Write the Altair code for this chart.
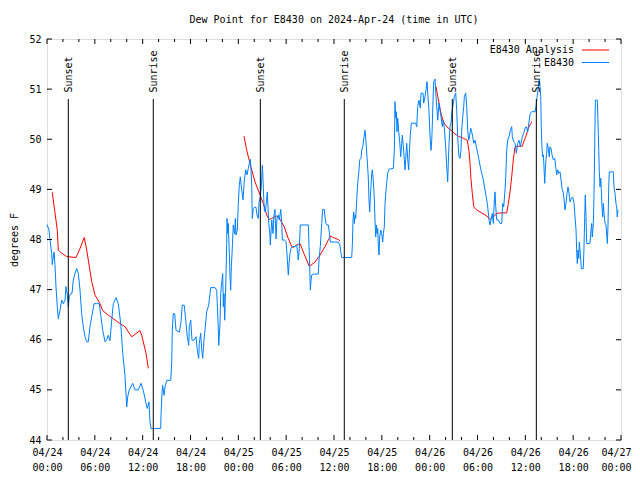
import json
import altair as alt
import pandas as pd

MONO = "DejaVu Sans Mono"

# ---- E8430 observations (hours since 2024-04-24 00:00 UTC, dew point degF)
obs_hours = [
    0.0, 0.25, 0.38, 0.59, 0.66, 0.88, 1.0, 1.13, 1.29, 1.42, 1.63, 1.84, 2.04, 2.26, 2.38, 2.55,
    2.67, 2.80, 2.97, 3.14, 3.30, 3.51, 3.73, 3.93, 4.14, 4.35, 4.55, 4.77, 4.98, 5.18, 5.39, 5.61,
    5.90, 6.23, 6.56, 6.74, 6.99, 7.28, 7.49, 7.69, 7.90, 8.12, 8.32, 8.66, 8.94, 9.25, 9.50, 9.78,
    10.0, 10.12, 10.32, 10.75, 11.04, 11.45, 11.79, 12.08, 12.42, 12.58, 12.79, 12.92, 13.05, 14.26,
    14.30, 14.43, 14.51, 14.68, 14.80, 15.02, 15.52, 15.64, 15.72, 15.84, 16.02, 16.18, 16.60, 16.81,
    16.97, 17.22, 17.40, 17.60, 17.78, 17.85, 18.03, 18.19, 18.44, 18.69, 18.85, 19.03, 19.10, 19.28,
    19.41, 19.53, 19.69, 19.86, 20.03, 20.28, 20.45, 20.53, 21.07, 21.29, 21.36, 21.49, 21.54, 21.70,
    21.79, 21.95, 22.04, 22.12, 22.20, 22.29, 22.45, 22.54, 22.58, 22.67, 22.74, 22.87, 22.96, 23.04,
    23.12, 23.21, 23.37, 23.55, 23.62, 23.71, 23.87, 24.0, 24.12, 24.25, 24.42, 24.59, 24.75, 24.93,
    25.09, 25.25, 25.43, 25.50, 25.59, 25.68, 25.75, 25.88, 26.0, 26.22, 26.34, 26.51, 26.60, 26.76,
    26.88, 27.01, 27.09, 27.18, 27.26, 27.38, 27.51, 27.63, 27.72, 27.81, 27.94, 28.01, 28.19, 28.35,
    28.47, 28.60, 28.73, 28.85, 29.01, 29.14, 29.32, 29.44, 29.52, 29.77, 29.98, 30.11, 30.19, 30.27,
    30.36, 30.48, 30.61, 30.77, 31.11, 31.32, 31.45, 31.52, 31.65, 31.77, 32.78, 32.87, 32.95, 33.03,
    33.12, 33.20, 33.41, 34.03, 34.12, 34.28, 34.46, 34.58, 34.78, 34.87, 35.0, 35.12, 35.29, 35.41,
    35.54, 36.54, 36.72, 36.88, 36.97, 38.22, 38.30, 38.39, 38.47, 38.55, 38.64, 38.72, 38.85, 38.97,
    39.14, 39.23, 39.39, 39.48, 39.64, 39.77, 39.89, 39.98, 40.14, 40.30, 40.39, 40.48, 40.56, 40.64,
    40.73, 40.81, 40.93, 41.06, 41.14, 41.23, 41.31, 41.40, 41.48, 41.56, 41.65, 41.73, 41.86, 41.98,
    42.11, 42.19, 42.31, 42.40, 42.56, 42.74, 42.90, 43.44, 43.57, 43.65, 43.74, 43.82, 43.90, 43.99,
    44.12, 44.24, 44.37, 44.49, 44.57, 44.70, 44.82, 44.91, 45.0, 45.12, 45.25, 45.37, 45.45, 45.57,
    45.70, 46.25, 46.38, 46.50, 46.66, 46.83, 46.92, 47.17, 47.25, 47.42, 47.54, 47.67, 47.76, 47.92,
    48.04, 48.17, 48.26, 48.33, 48.42, 48.51, 48.67, 48.80, 48.92, 49.01, 49.17, 49.30, 49.42, 49.59,
    49.71, 49.84, 50.01, 50.14, 50.26, 50.34, 50.43, 50.55, 50.68, 50.77, 50.97, 51.09, 51.27, 51.39,
    51.52, 51.59, 51.68, 51.81, 51.93, 52.02, 52.15, 52.27, 52.35, 52.52, 52.65, 52.77, 52.90, 53.02,
    53.15, 53.27, 53.40, 53.53, 53.69, 53.85, 54.03, 54.19, 54.35, 54.53, 54.73, 54.94, 55.16, 55.28,
    55.45, 55.57, 55.70, 55.86, 55.99, 56.11, 56.20, 56.29, 56.41, 56.61, 56.82, 57.04, 57.16, 57.29,
    57.45, 57.54, 57.66, 57.79, 57.95, 58.12, 58.29, 58.37, 58.54, 58.71, 58.87, 59.05, 59.21, 59.37,
    59.62, 59.80, 59.96, 60.12, 60.30, 60.46, 60.63, 60.80, 61.22, 61.34, 61.43, 61.59, 61.76, 61.84,
    61.93, 62.0, 62.09, 62.18, 62.26, 62.34, 62.43, 62.51, 62.59, 62.68, 62.75, 62.88, 63.0, 63.09,
    63.22, 63.35, 63.51, 63.69, 63.81, 63.94, 64.06, 64.19, 64.35, 64.48, 64.60, 64.77, 64.89, 64.98,
    65.10, 65.23, 65.35, 65.48, 65.61, 65.77, 65.94, 66.11, 66.23, 66.36, 66.45, 66.52, 66.61, 66.70,
    66.77, 66.90, 67.02, 67.27, 67.36, 67.45, 67.52, 67.61, 67.70, 68.11, 68.24, 68.33, 68.40, 68.53,
    68.62, 68.70, 68.78, 69.03, 69.12, 69.21, 69.28, 69.37, 69.46, 69.53, 69.62, 69.71, 69.78, 69.87,
    70.0, 70.12, 70.21, 70.29, 70.37, 70.46, 70.53, 71.03, 71.12, 71.25, 71.37, 71.46, 71.53, 71.62,
]
obs_dewpt = [
    48.30, 48.19, 47.99, 47.72, 47.50, 47.75, 47.50, 47.05, 46.66, 46.42, 46.59, 46.79, 46.72, 46.79, 47.06, 46.89,
    46.66, 46.86, 46.92, 46.93, 47.19, 47.32, 47.42, 47.32, 46.99, 46.52, 46.26, 46.06, 45.96, 45.96, 46.26, 46.46,
    46.72, 46.72, 46.72, 46.49, 46.19, 45.96, 46.00, 46.09, 45.98, 46.39, 46.72, 46.84, 46.72, 46.32, 45.73, 45.29,
    44.66, 44.86, 45.00, 45.13, 45.00, 45.00, 45.13, 44.99, 44.73, 44.63, 44.76, 44.36, 44.23, 44.23,
    44.49, 44.96, 45.09, 44.89, 45.06, 45.19, 45.19, 45.53, 46.19, 46.52, 46.52, 46.19, 46.15, 46.36,
    46.69, 46.69, 46.39, 46.06, 45.89, 46.26, 46.39, 45.99, 45.99, 46.06, 45.79, 45.63, 45.93, 46.13,
    45.79, 45.63, 45.99, 46.26, 46.56, 46.69, 46.92, 47.04, 47.04, 46.99, 46.72, 46.19, 45.89, 46.32,
    46.92, 47.19, 47.32, 46.66, 46.92, 46.39, 47.26, 47.92, 48.42, 48.12, 48.32, 47.72, 47.26, 46.99,
    47.46, 47.72, 48.29, 48.11, 48.42, 48.09, 48.19, 48.72, 49.08, 49.25, 48.99, 48.79, 49.19, 49.39,
    49.29, 49.42, 49.55, 49.60, 49.39, 49.06, 48.42, 48.62, 48.64, 48.64, 48.49, 48.42, 48.75, 48.85,
    49.05, 49.48, 49.22, 48.85, 48.59, 48.55, 48.72, 48.95, 48.65, 48.32, 48.15, 47.89, 48.39, 48.12,
    48.49, 48.60, 48.01, 48.42, 48.49, 48.39, 48.60, 48.35, 47.99, 47.99, 47.96, 47.69, 47.49, 47.29,
    47.52, 47.72, 47.82, 47.86, 47.86, 47.89, 47.72, 47.59, 47.82, 48.29, 48.29, 47.86, 47.46, 46.99,
    47.19, 47.29, 47.31, 47.31, 47.59, 47.86, 48.32, 48.60, 48.60, 48.45, 48.32, 48.29, 48.29, 48.15,
    47.95, 47.95, 47.90, 47.72, 47.64, 47.64, 47.89, 48.39, 48.55, 48.32, 48.49, 48.42, 48.79, 49.12,
    49.39, 49.59, 49.62, 49.78, 49.88, 50.05, 50.18, 50.02, 49.65, 49.25, 48.79, 48.55, 48.85, 49.05,
    49.32, 49.39, 49.19, 48.79, 48.39, 48.05, 48.29, 48.12, 48.22, 47.89, 47.69, 48.05, 48.19, 48.12,
    47.95, 48.12, 48.25, 48.72, 49.05, 49.32, 49.40, 49.42, 49.78, 50.75, 50.42, 50.55, 50.15, 50.42,
    50.15, 49.95, 49.65, 49.92, 50.08, 49.85, 49.59, 49.39, 49.62, 49.92, 49.59, 49.39, 49.72, 50.08,
    50.32, 50.32, 50.25, 50.65, 50.78, 50.62, 50.92, 50.92, 50.72, 50.85, 50.98, 51.15, 50.92, 50.55,
    50.08, 49.78, 49.98, 50.28, 50.78, 51.15, 51.20, 50.85, 50.58, 50.38, 50.72, 50.58, 50.45, 50.25,
    50.38, 50.22, 49.85, 49.45, 49.15, 49.52, 49.92, 50.25, 50.32, 50.52, 50.72, 50.85, 50.92, 50.58,
    50.05, 49.85, 49.65, 49.62, 49.78, 50.18, 50.45, 50.65, 50.85, 50.92, 50.65, 50.18, 49.98, 50.08,
    50.22, 50.15, 50.05, 49.92, 49.98, 49.85, 49.72, 49.59, 49.45, 49.32, 49.19, 48.99, 48.79, 48.65,
    48.39, 48.29, 48.39, 48.52, 48.32, 48.79, 48.95, 48.65, 48.39, 48.39, 48.32, 48.32, 48.72, 48.65,
    48.99, 49.25, 49.78, 49.98, 50.05, 50.18, 50.25, 50.05, 49.95, 49.92, 49.72, 49.92, 49.98, 49.85,
    50.05, 50.12, 50.22, 50.25, 50.15, 50.35, 50.52, 50.55, 50.55, 50.65, 50.78, 50.98, 51.20, 51.05,
    50.85, 50.25, 49.82, 49.65, 49.69, 49.45, 49.12, 49.39, 49.59, 49.72, 49.92, 49.82, 49.65, 49.85,
    49.82, 49.69, 49.59, 49.62, 49.45, 49.29, 49.39, 49.32, 49.35, 49.19, 49.02, 48.92, 48.75, 48.59,
    48.72, 48.92, 49.05, 48.92, 48.75, 48.82, 48.85, 48.72, 48.45, 48.19, 47.72, 47.52, 47.79, 47.62,
    47.95, 47.72, 47.42, 47.42, 47.85, 48.45, 48.89, 48.45, 47.92, 47.92, 48.19, 48.32, 48.05, 48.32,
    48.92, 49.85, 50.78, 50.78, 50.32, 49.78, 49.35, 49.05, 49.22, 48.99, 48.65, 48.45, 48.72, 48.52,
    48.32, 48.29, 48.09, 47.92, 48.29, 49.05, 49.35, 49.35, 49.05, 48.92, 48.72, 48.65, 48.45, 48.59,
]

# ---- E8430 Analysis (three separate stretches)
ana1_hours = [0.66, 1.29, 1.42, 1.72, 2.47, 3.64, 4.14, 4.68, 4.98, 5.61, 6.02, 6.65, 6.99, 7.69,
              8.74, 9.78, 10.62, 11.67, 11.88, 12.42, 12.71]
ana1_dewpt = [48.94, 48.19, 47.79, 47.74, 47.66, 47.64, 47.82, 48.04, 47.79, 47.16, 46.89, 46.72,
              46.58, 46.49, 46.37, 46.26, 46.06, 46.18, 46.09, 45.73, 45.43]
ana2_hours = [24.71, 25.05, 25.46, 26.09, 26.72, 27.13, 27.56, 27.85, 28.19, 28.81, 29.23, 29.77,
              30.19, 30.70, 30.90, 31.32, 31.74, 32.15, 32.58, 32.87, 33.12, 33.62, 34.25, 34.87,
              35.29, 35.59, 35.91, 36.54, 36.75]
ana2_dewpt = [50.06, 49.78, 49.52, 49.15, 48.89, 48.72, 48.49, 48.40, 48.42, 48.47, 48.40, 48.25,
              48.05, 47.86, 47.84, 47.89, 47.92, 47.75, 47.59, 47.47, 47.49, 47.55, 47.69, 47.86,
              47.99, 48.07, 48.04, 48.00, 47.97]
ana3_hours = [48.80, 49.01, 49.17, 49.42, 49.71, 50.01, 50.34, 50.68, 51.09, 51.59, 52.22, 52.72,
              52.94, 53.06, 53.19, 53.35, 53.53, 53.90, 54.53, 55.16, 55.57, 55.99, 56.41, 56.82,
              57.66, 57.87, 58.08, 58.29, 58.49, 58.71, 59.12, 59.62, 59.80, 60.05, 60.38, 60.71, 60.80]
ana3_dewpt = [51.05, 50.85, 50.72, 50.52, 50.35, 50.28, 50.22, 50.18, 50.12, 50.06, 50.02, 49.98,
              49.75, 49.52, 49.19, 48.92, 48.65, 48.59, 48.53, 48.47, 48.40, 48.45, 48.52, 48.53,
              48.53, 48.72, 48.95, 49.25, 49.59, 49.85, 49.86, 49.86, 49.95, 50.05, 50.22, 50.32, 50.35]

# ---- sunrise / sunset markers
event_hours = [2.67, 13.33, 26.76, 37.29, 50.84, 61.38]
event_names = ["Sunset", "Sunrise", "Sunset", "Sunrise", "Sunset", "Sunrise"]

# ---- axes
y_ticks = [44, 45, 46, 47, 48, 49, 50, 51, 52]
x_major = [0, 6, 12, 18, 24, 30, 36, 42, 48, 54, 60, 66, 72]
x_minor = [2, 4, 8, 10, 14, 16, 20, 22, 26, 28, 32, 34, 38, 40, 44, 46, 50, 52, 56, 58, 62, 64, 68, 70]
x_tick_dates = ["04/24", "04/24", "04/24", "04/24", "04/25", "04/25", "04/25", "04/25",
                "04/26", "04/26", "04/26", "04/26", "04/27"]
x_tick_times = ["00:00", "06:00", "12:00", "18:00", "00:00", "06:00", "12:00", "18:00",
                "00:00", "06:00", "12:00", "18:00", "00:00"]
series_names = ["E8430 Analysis", "E8430"]
series_colors = ["#ff0000", "#0080ff"]
title_text = "Dew Point for E8430 on 2024-Apr-24 (time in UTC)"

W, H = 574, 401

df_obs = pd.DataFrame({"h": obs_hours, "v": obs_dewpt})
df_ana = pd.concat([
    pd.DataFrame({"h": ana1_hours, "v": ana1_dewpt, "seg": 1}),
    pd.DataFrame({"h": ana2_hours, "v": ana2_dewpt, "seg": 2}),
    pd.DataFrame({"h": ana3_hours, "v": ana3_dewpt, "seg": 3}),
])
df_evt = pd.DataFrame({"h": event_hours, "name": event_names})
df_xmaj = pd.DataFrame({"h": x_major})
df_xmin = pd.DataFrame({"h": x_minor})
df_y = pd.DataFrame({"v": y_ticks})

label_expr = "[{d}[round(datum.value/6)], {t}[round(datum.value/6)]]".format(
    d=json.dumps(x_tick_dates), t=json.dumps(x_tick_times))
last_x = x_major[-1]

X = alt.X("h:Q", scale=alt.Scale(domain=[0, 72], nice=False, zero=False),
          axis=alt.Axis(values=x_major, labelExpr=label_expr, title="", labelPadding=7,
                        labelLineHeight=15, labelFlush=False,
                        labelAlign=alt.ExprRef(expr=f"datum.value == {last_x} ? 'right' : 'center'"),
                        labelOffset=alt.ExprRef(expr=f"datum.value == {last_x} ? 10 : 0"),
                        grid=False, ticks=False, domain=False,
                        labelFont=MONO, labelFontSize=10, labelColor="black"))
Y = alt.Y("v:Q", scale=alt.Scale(domain=[44, 52], nice=False, zero=False),
          axis=alt.Axis(values=y_ticks, title="degrees F", labelPadding=6, titlePadding=9,
                        grid=False, ticks=False, domain=False,
                        labelFont=MONO, labelFontSize=10, labelColor="black",
                        titleFont=MONO, titleFontSize=10, titleFontWeight="normal",
                        titleColor="black"))

ana = alt.Chart(df_ana).mark_line(color=series_colors[0], strokeWidth=1).encode(
    x=X, y=Y, detail="seg:N")
obs = alt.Chart(df_obs).mark_line(color=series_colors[1], strokeWidth=1).encode(x=X, y=Y)

evt_rule = alt.Chart(df_evt).mark_rule(color="black", strokeWidth=1).encode(
    x=X, y=alt.value(60), y2=alt.value(H))
evt_text = alt.Chart(df_evt).mark_text(angle=270, align="left", baseline="middle", font=MONO,
                                       fontSize=10, color="black", dy=1).encode(
    x=X, y=alt.value(53.5), text="name:N")

tick_bot_maj = alt.Chart(df_xmaj).mark_rule(color="black").encode(x=X, y=alt.value(H - 5), y2=alt.value(H))
tick_top_maj = alt.Chart(df_xmaj).mark_rule(color="black").encode(x=X, y=alt.value(0), y2=alt.value(5))
tick_bot_min = alt.Chart(df_xmin).mark_rule(color="black").encode(x=X, y=alt.value(H - 3), y2=alt.value(H))
tick_top_min = alt.Chart(df_xmin).mark_rule(color="black").encode(x=X, y=alt.value(0), y2=alt.value(3))
tick_left = alt.Chart(df_y).mark_rule(color="black").encode(y=Y, x=alt.value(0), x2=alt.value(5))
tick_right = alt.Chart(df_y).mark_rule(color="black").encode(y=Y, x=alt.value(W - 5), x2=alt.value(W))

df_leg = pd.DataFrame({"name": series_names, "color": series_colors, "row": [0, 1]})
leg_layers = []
for i, (nm, col) in enumerate(zip(series_names, series_colors)):
    yy = 11 + i * 12.5
    one = df_leg.iloc[[i]]
    leg_layers.append(alt.Chart(one).mark_text(align="right", baseline="middle", font=MONO,
                                               fontSize=10, color="black").encode(
        x=alt.value(527), y=alt.value(yy), text="name:N"))
    leg_layers.append(alt.Chart(one).mark_rule(color=col, strokeWidth=1).encode(
        x=alt.value(535), x2=alt.value(562), y=alt.value(yy)))

chart = alt.layer(
    ana, obs, evt_rule, evt_text,
    tick_bot_maj, tick_top_maj, tick_bot_min, tick_top_min, tick_left, tick_right,
    *leg_layers
).properties(
    width=W, height=H,
    title=alt.TitleParams(text=title_text, font=MONO, fontSize=10, fontWeight="normal",
                          anchor="middle", frame="group", offset=9, color="black"),
    autosize=alt.AutoSizeParams(type="none"),
    padding={"left": 39, "top": 31, "right": 11, "bottom": 32},
).configure_view(
    stroke="black", strokeWidth=1
).configure_axis(
    grid=False, domain=False, ticks=False,
    labelFont=MONO, labelFontSize=10, labelColor="black",
    titleFont=MONO, titleFontSize=10, titleFontWeight="normal", titleColor="black",
).configure(background="white")

chart.save("out.html", embed_options={"renderer": "svg", "actions": False})
